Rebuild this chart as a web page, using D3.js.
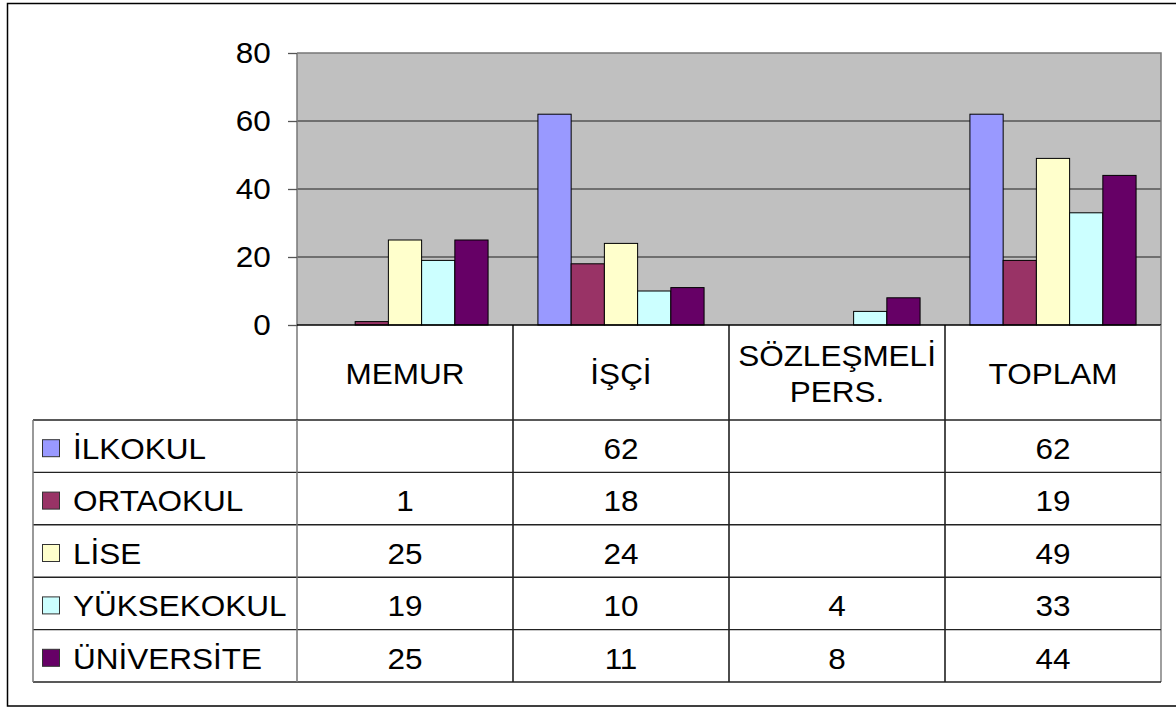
<!DOCTYPE html>
<html><head><meta charset="utf-8">
<script src="https://cdn.jsdelivr.net/npm/d3@7"></script>
<style>
html,body{margin:0;padding:0;background:#fff;}
svg{display:block;font-family:"Liberation Sans",Arial,sans-serif;}
</style></head>
<body>
<svg id="c" width="1176" height="708"></svg>
<script>
// ---- data ----
const categories = ["MEMUR", "İŞÇİ", "SÖZLEŞMELİ\nPERS.", "TOPLAM"];
const seriesNames = ["İLKOKUL", "ORTAOKUL", "LİSE", "YÜKSEKOKUL", "ÜNİVERSİTE"];
const seriesColors = ["#9999FF", "#993366", "#FFFFCC", "#CCFFFF", "#660066"];
const ilkokul    = [null, 62, null, 62];
const ortaokul   = [1, 18, null, 19];
const lise       = [25, 24, null, 49];
const yuksekokul = [19, 10, 4, 33];
const universite = [25, 11, 8, 44];
const yTicks = [0, 20, 40, 60, 80];

const seriesValues = [ilkokul, ortaokul, lise, yuksekokul, universite];

// ---- layout ----
const svg = d3.select("#c");
const L = 297, R = 1161, T = 53, B = 325;
const headerBottom = 420, tableLeft = 33, rowH = 52.4;
const FS = 30, SX = 1.05;

function label(g, x, yy, txt, anchor) {
  return g.append("text")
    .attr("transform", `translate(${x},${yy}) scale(${SX},1)`)
    .attr("text-anchor", anchor || "start")
    .attr("font-size", FS).attr("fill", "#000").text(txt);
}

// outer frame
svg.append("rect").attr("x", 7.5).attr("y", 3.5).attr("width", 1176).attr("height", 702.5)
  .attr("fill", "none").attr("stroke", "#000").attr("stroke-width", 1.5);

const x0 = d3.scaleBand().domain(d3.range(categories.length)).range([L, R]).padding(0);
const x1 = d3.scaleBand().domain(d3.range(seriesNames.length)).range([0, x0.bandwidth()])
  .paddingInner(0).paddingOuter(0.75);
const y = d3.scaleLinear().domain([0, 80]).range([B, T]);

// plot background
svg.append("rect").attr("x", L).attr("y", T).attr("width", R - L).attr("height", B - T)
  .attr("fill", "#C0C0C0");

// gridlines
svg.append("g").selectAll("line").data(yTicks.filter(v => v > 0 && v < 80)).join("line")
  .attr("x1", L).attr("x2", R).attr("y1", d => y(d)).attr("y2", d => y(d))
  .attr("stroke", "#555").attr("stroke-width", 1.3);

// plot border top/right
svg.append("path").attr("d", `M${L},${T}H${R}V${B}`).attr("fill", "none")
  .attr("stroke", "#777").attr("stroke-width", 1.5);

// bars
seriesValues.forEach((vals, si) => {
  svg.append("g").selectAll("rect")
    .data(vals.map((v, ci) => ({v, ci})).filter(d => d.v != null && d.v > 0))
    .join("rect")
    .attr("x", d => x0(d.ci) + x1(si))
    .attr("width", x1.bandwidth())
    .attr("y", d => y(d.v))
    .attr("height", d => y(0) - y(d.v))
    .attr("fill", seriesColors[si])
    .attr("stroke", "#000").attr("stroke-width", 1);
});

// y axis
const yAxis = d3.axisLeft(y).tickValues(yTicks).tickSize(9).tickPadding(16).tickFormat(d3.format("d"));
const ga = svg.append("g").attr("transform", `translate(${L},0)`).call(yAxis);
ga.select(".domain").attr("stroke", "#777").attr("stroke-width", 1.5).attr("d", `M0,${T}V${headerBottom}`);
ga.selectAll(".tick line").attr("stroke", "#555").attr("stroke-width", 1.3);
ga.selectAll(".tick text").attr("font-size", FS).attr("fill", "#000")
  .attr("font-family", '"Liberation Sans",Arial,sans-serif')
  .attr("x", -25).attr("transform", `scale(${SX},1)`);

// x baseline
svg.append("line").attr("x1", L).attr("x2", R).attr("y1", B).attr("y2", B)
  .attr("stroke", "#000").attr("stroke-width", 1.5);

// column separators
const colEdges = d3.range(categories.length + 1).map(i => i < categories.length ? x0(i) : R);
svg.append("g").selectAll("line").data(colEdges.slice(1)).join("line")
  .attr("x1", d => d).attr("x2", d => d).attr("y1", B).attr("y2", headerBottom + rowH * 5)
  .attr("stroke", (d, i) => i === colEdges.length - 2 ? "#777" : "#000").attr("stroke-width", 1.4);

// header labels
categories.forEach((c, ci) => {
  const lines = c.split("\n");
  const cx = x0(ci) + x0.bandwidth() / 2;
  const cy = (B + headerBottom) / 2 + 1;
  lines.forEach((ln, li) => {
    label(svg, cx, cy + (li - (lines.length - 1) / 2) * 36 + FS * 0.36, ln, "middle");
  });
});

// table rows
const rowY = i => headerBottom + i * rowH;
svg.append("g").selectAll("line").data(d3.range(seriesNames.length + 1)).join("line")
  .attr("x1", tableLeft).attr("x2", R).attr("y1", d => rowY(d)).attr("y2", d => rowY(d))
  .attr("stroke", "#222").attr("stroke-width", 1.4);
svg.append("line").attr("x1", tableLeft).attr("x2", tableLeft).attr("y1", headerBottom)
  .attr("y2", rowY(seriesNames.length)).attr("stroke", "#777").attr("stroke-width", 1.5);
svg.append("line").attr("x1", L).attr("x2", L).attr("y1", headerBottom)
  .attr("y2", rowY(seriesNames.length)).attr("stroke", "#777").attr("stroke-width", 1.5);

seriesNames.forEach((s, si) => {
  const cy = rowY(si) + rowH / 2 + 2;
  svg.append("rect").attr("x", 42.5).attr("y", cy - 8.5).attr("width", 17).attr("height", 17)
    .attr("fill", seriesColors[si]).attr("stroke", "#333").attr("stroke-width", 1);
  label(svg, 73, cy + FS * 0.36, s, "start");
  seriesValues[si].forEach((v, ci) => {
    if (v == null) return;
    label(svg, x0(ci) + x0.bandwidth() / 2, cy + FS * 0.36, String(v), "middle");
  });
});
</script>
</body></html>
